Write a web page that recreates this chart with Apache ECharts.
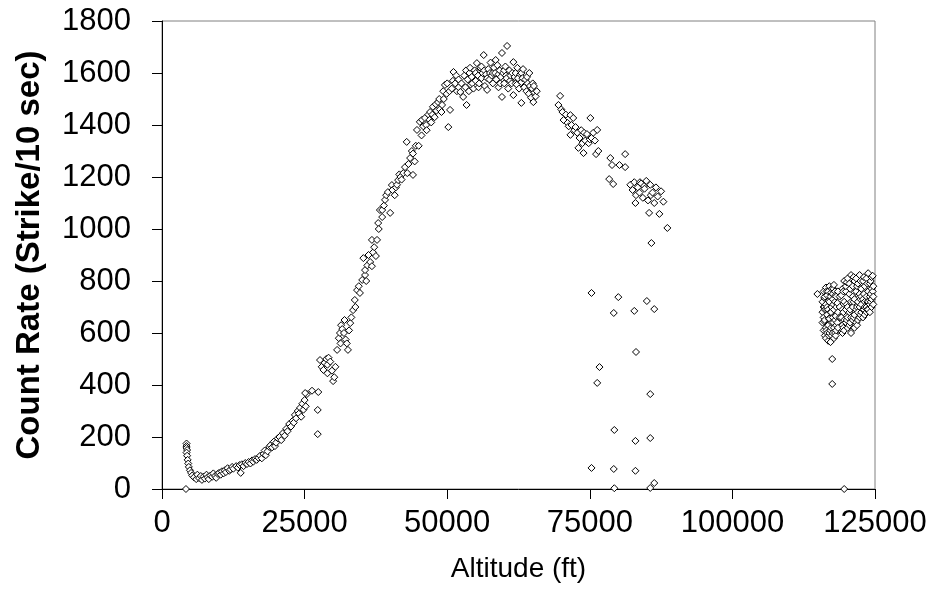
<!DOCTYPE html>
<html>
<head>
<meta charset="utf-8">
<script src="https://cdn.jsdelivr.net/npm/echarts@6/dist/echarts.min.js"></script>
<style>html,body{margin:0;padding:0;background:#fff;}#c{width:937px;height:613px;}</style>
</head>
<body>
<div id="c"></div>
<script>
// Tick labels
const xTicks = [0, 25000, 50000, 75000, 100000, 125000];
const yTicks = [0, 200, 400, 600, 800, 1000, 1200, 1400, 1600, 1800];

// Launch / low-altitude part
const lowAlt  = [4200,4300,4300,4300,4400,4300,4400,4500,4600,4700,4900,5100,5300,5600,6000,6200,6500,6800,7000,7300,7500,7800,8000,8200,8500,8800,9000,9300,9500,9800,10000,10300,10500,10800,11000,11200,11500,11800,12000,12300,12500,13000,13300,13600,13800,14000,14300,14600,14900,15200,15500,15800,16000,16300,16600,16900,17200,17500,17800,18000,18200,18500,18800,19000,19300,19600,19800,20000,20300,20600,20900,21200,21500,21800,22000,22300,22600,22900,23100,23300,23500,23800,24000,24200,24400,24600,24800,25000,25200,25400];
const lowRate = [0,175,165,158,150,140,128,112,98,85,72,62,52,45,38,55,42,50,35,48,40,55,45,38,52,47,60,50,43,58,62,55,68,60,72,65,80,70,75,85,78,88,82,92,62,95,88,100,96,104,98,110,105,115,112,120,128,118,135,148,130,145,162,168,160,182,165,178,195,200,188,215,205,232,222,250,240,262,255,285,272,300,290,312,278,328,305,342,318,365];

// Rising part
const riseAlt  = [25100,26300,27300,27300,27400,27700,28000,28300,28500,28800,29000,29000,29200,29500,29800,30000,30200,30400,30700,31000,31200,31300,31400,31600,31900,32000,32200,32400,32600,32800,33000,33200,33500,33800,33900,34200,34500,34700,35100,35300,35600,35600,35800,36000,36200,36500,36800,36800,37000,37200,37500,37700,37900,38000,38200,38600,38600,38900,39100,39300,39600,40000,40300,40400,40800,41000,41200,41400,41600,41800,42000,42300,42600,42900,43000,43200,43500,43800,44000,44000,44300,44500,44700,45000,45200,45500,45600,45800,46100,46300,46400,46700,46900,47000,47200,47400,47500,47800,48000,48100,48400,48600,48700,49000,49100,49300,49400,49600,49900,50000,50200,50400,50500,50800,51000,51100,51400,51600,51700,52000,52000];
const riseRate = [369,378,211,304,373,496,470,458,485,500,478,445,505,490,455,415,430,470,535,580,600,560,630,615,600,650,575,560,535,610,638,660,688,727,700,765,780,754,804,888,823,842,800,860,900,873,857,958,910,930,896,958,1023,1000,1073,1046,1073,1090,1112,1130,1142,1062,1169,1150,1130,1160,1170,1188,1210,1200,1190,1215,1238,1335,1215,1250,1273,1300,1208,1290,1260,1320,1381,1320,1412,1360,1420,1395,1427,1400,1380,1440,1420,1450,1410,1440,1470,1430,1480,1455,1488,1500,1460,1450,1477,1530,1500,1554,1520,1560,1392,1530,1458,1540,1570,1604,1560,1590,1530,1575,1545];

// Peak part
const peakAlt  = [52300,52500,52800,53000,53200,53300,53400,53600,53800,53900,54000,54100,54300,54400,54600,54800,55000,55000,55200,55400,55500,55600,55800,56000,56000,56200,56400,56500,56600,56800,57000,57000,57200,57400,57500,57600,57800,58000,58000,58200,58400,58500,58600,58800,59000,59000,59200,59300,59400,59600,59600,59800,60000,60000,60200,60300,60400,60500,60700,60900,61000,61100,61300,61400,61600,61600,61800,62000,62000,62200,62300,62400,62600,62800,63000,63000,63000,63200,63300,63500,63700,63900,64000,64100,64300,64400,64500,64700,64900,65000,65100,65200,65300,65500,65700];
const peakRate = [1527,1560,1508,1590,1545,1610,1477,1575,1530,1600,1620,1555,1585,1560,1540,1610,1570,1600,1638,1590,1545,1560,1620,1580,1625,1600,1669,1610,1550,1595,1535,1580,1615,1575,1600,1640,1590,1560,1600,1620,1600,1650,1575,1630,1545,1595,1610,1560,1585,1677,1508,1600,1560,1610,1625,1590,1580,1704,1540,1610,1570,1590,1560,1600,1642,1515,1585,1600,1560,1555,1620,1580,1540,1595,1485,1565,1600,1580,1615,1545,1575,1530,1585,1560,1520,1600,1550,1505,1540,1560,1488,1550,1525,1510,1530];

// Falling part
const fallAlt  = [69500,69800,70000,70200,70400,70800,71100,71300,71600,71600,71800,72100,72300,72500,72800,73000,73200,73500,73700,73900,74000,74200,74500,74800,75000,75100,75300,75600,75900,76100,76300,76500,78400,78600,78900,79100,80200,81200,81200,82100,82500,82800,83000,83100,83400,83700,83800,84000,84300,84500,84600,84900,85200,85400,85600,85700,85800,86000,86300,86600,86900,87200,87500,87900,88600];
const fallRate = [1477,1512,1460,1450,1419,1440,1408,1395,1438,1362,1400,1427,1380,1392,1370,1312,1350,1380,1330,1292,1370,1340,1365,1330,1345,1427,1350,1370,1340,1288,1381,1300,1192,1273,1246,1173,1246,1288,1238,1170,1150,1180,1100,1130,1160,1140,1180,1175,1120,1165,1155,1185,1110,1062,1170,1130,946,1140,1100,1160,1125,1058,1145,1105,1004];

// Signal dropouts
const dropAlt  = [75300,80000,79200,82800,85000,86300,83100,76700,76300,85600,79300,83000,85600,75300,79200,83000,86300,85600,79300];
const dropRate = [754,738,677,685,723,692,527,469,408,365,227,185,196,81,77,70,23,4,3];

// Float part
const floatAlt  = [114900,117500,117500,119600,
115800,115800,115800,116000,116000,116000,116000,116100,116100,116100,116200,116200,116200,116200,116400,116400,116400,116400,116500,116500,116500,116600,116600,116600,116600,116800,116800,116800,116800,116900,116900,116900,117000,117000,117000,117000,117200,117200,117200,117200,117300,117300,117300,117400,117400,117400,117400,117600,117600,117600,117600,117700,117700,117700,117800,117800,117800,117800,118000,118000,118000,118000,118100,118100,118100,118200,118200,118200,118200,118400,118400,118500,118500,118500,118800,118800,118800,
119100,119100,119300,119300,119300,119300,119450,119450,119450,119600,119600,119600,119600,119900,119900,119900,119900,120050,120050,120050,120200,120200,120200,120200,120500,120500,120500,120500,120650,120650,120650,120800,120800,120800,120800,121100,121100,121100,121100,121250,121250,121250,121400,121400,121400,121400,121700,121700,121700,121700,121850,121850,121850,122000,122000,122000,122000,122300,122300,122300,122300,122450,122450,122450,122600,122600,122600,122600,122900,122900,122900,122900,123050,123050,123050,123200,123200,123200,123200,123500,123500,123500,123500,123650,123650,123650,123800,123800,123800,123800,124100,124100,124100,124100,124250,124250,124250,124400,124400,124400,124400,124600,124600,124700,124700,124700];
const floatRate = [750,500,404,0,
720,680,640,760,700,610,660,735,645,700,740,590,690,650,775,620,710,580,760,690,610,700,745,600,670,760,630,690,570,725,655,590,780,655,720,600,740,610,680,565,755,680,620,770,700,640,590,730,660,600,750,710,640,770,785,690,620,580,720,650,760,600,745,665,590,700,630,740,610,715,640,760,680,620,740,660,700,
745,660,770,690,630,600,760,680,620,800,720,650,610,760,690,640,780,795,710,650,810,700,660,620,750,680,630,790,770,690,640,823,720,660,600,780,700,650,740,815,720,660,800,730,670,620,760,690,640,810,780,700,630,790,720,680,650,823,750,700,660,800,730,670,770,710,680,740,800,730,690,660,815,750,690,780,720,670,700,810,740,700,680,790,720,690,830,760,720,690,790,740,710,680,800,750,720,815,770,730,700,820,760,780,740,710];

function pairs(a, b) { return a.map((v, i) => [v, b[i]]); }
const allData = [].concat(
  pairs(lowAlt, lowRate), pairs(riseAlt, riseRate), pairs(peakAlt, peakRate),
  pairs(fallAlt, fallRate), pairs(dropAlt, dropRate), pairs(floatAlt, floatRate));

const FONT = 'Liberation Sans, Arial, sans-serif';
const chart = echarts.init(document.getElementById('c'), null, {renderer: 'canvas'});
chart.setOption({
  animation: false,
  backgroundColor: '#fff',
  grid: {left: 162, top: 21, right: 62, bottom: 124, show: true, borderColor: '#808080', borderWidth: 1},
  xAxis: {
    type: 'value', min: xTicks[0], max: xTicks[xTicks.length-1], interval: 25000,
    name: 'Altitude (ft)', nameLocation: 'middle', nameGap: 66,
    nameTextStyle: {fontFamily: FONT, fontSize: 28, color: '#000'},
    axisLine: {show: true, onZero: false, lineStyle: {color: '#000', width: 1}},
    axisTick: {show: true, length: 10, lineStyle: {color: '#000'}},
    axisLabel: {fontFamily: FONT, fontSize: 31, color: '#000', margin: 19, formatter: v => String(v)},
    splitLine: {show: false}
  },
  yAxis: {
    type: 'value', min: yTicks[0], max: yTicks[yTicks.length-1], interval: 200,
    name: 'Count Rate (Strike/10 sec)', nameLocation: 'middle', nameGap: 116,
    nameTextStyle: {fontFamily: FONT, fontSize: 33, fontWeight: 'bold', color: '#000'},
    axisLine: {show: true, onZero: false, lineStyle: {color: '#000', width: 1}},
    axisTick: {show: true, length: 10, lineStyle: {color: '#000'}},
    axisLabel: {fontFamily: FONT, fontSize: 31, color: '#000', margin: 31, formatter: v => String(v)},
    splitLine: {show: false}
  },
  series: [{
    type: 'scatter',
    data: allData,
    symbol: 'diamond',
    symbolSize: 7,
    itemStyle: {color: '#fff', borderColor: '#000', borderWidth: 1, opacity: 1},
    emphasis: {disabled: true}
  }]
});
</script>
</body>
</html>
